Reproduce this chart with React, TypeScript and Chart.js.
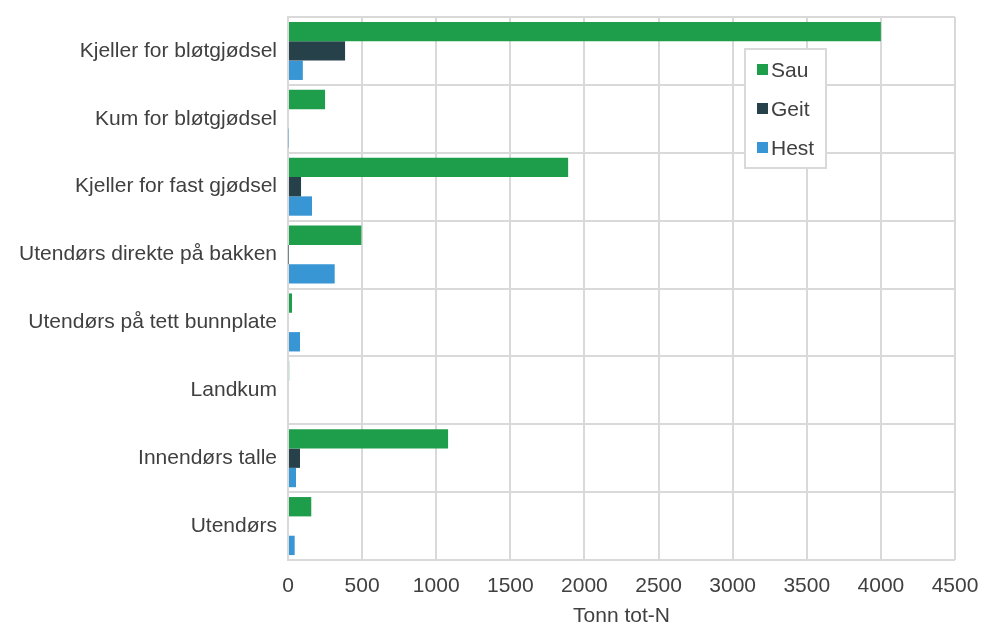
import React, { useEffect, useRef } from "react";
import { Chart, registerables } from "chart.js";

Chart.register(...registerables);

const categories = [
  "Kjeller for bløtgjødsel",
  "Kum for bløtgjødsel",
  "Kjeller for fast gjødsel",
  "Utendørs direkte på bakken",
  "Utendørs på tett bunnplate",
  "Landkum",
  "Innendørs talle",
  "Utendørs",
];
const sau = [4000, 250, 1890, 495, 27, 8, 1080, 157];
const geit = [385, 0, 88, 3, 0, 0, 81, 0];
const hest = [100, 4, 162, 315, 81, 0, 54, 45];
const seriesNames = ["Sau", "Geit", "Hest"];
const seriesColors = ["#1e9e4a", "#26414a", "#3896d4"];
const xTicks = [0, 500, 1000, 1500, 2000, 2500, 3000, 3500, 4000, 4500];

const FONT = "'Liberation Sans', Arial, sans-serif";
const TEXT = "#404040";
const GRID = "#d9d9d9";
const FS = 21;

const legendPlugin = {
  id: "boxLegend",
  afterDraw(chart: any) {
    const ctx = chart.ctx;
    const ca = chart.chartArea;
    const x = ca.left + 457;
    const y = ca.top + 32;
    const w = 81;
    const h = 119;
    ctx.save();
    ctx.fillStyle = "#ffffff";
    ctx.fillRect(x, y, w, h);
    ctx.strokeStyle = GRID;
    ctx.lineWidth = 2;
    ctx.strokeRect(x, y, w, h);
    ctx.font = `${FS}px ${FONT}`;
    ctx.textBaseline = "middle";
    ctx.textAlign = "left";
    chart.data.datasets.forEach((ds: any, i: number) => {
      const cy = y + 21 + i * 39;
      ctx.fillStyle = ds.backgroundColor;
      ctx.fillRect(x + 12, cy - 6, 11, 11);
      ctx.fillStyle = TEXT;
      ctx.fillText(ds.label, x + 26, cy + 1);
    });
    ctx.restore();
  },
};

export default function App() {
  const ref = useRef<HTMLCanvasElement>(null);
  useEffect(() => {
    document.body.style.margin = "0";
    const chart = new Chart(ref.current!, {
      type: "bar",
      data: {
        labels: categories,
        datasets: [sau, geit, hest].map((d, i) => ({
          label: seriesNames[i],
          data: d,
          backgroundColor: seriesColors[i],
          borderWidth: 0,
          barPercentage: 1,
          categoryPercentage: 0.855,
        })),
      },
      options: {
        indexAxis: "y",
        animation: false,
        responsive: false,
        maintainAspectRatio: false,
        layout: { padding: { top: 17, right: 26, left: 0, bottom: 0 } },
        plugins: {
          legend: { display: false },
          tooltip: { enabled: false },
        },
        scales: {
          x: {
            min: 0,
            max: 4500,
            afterBuildTicks: (s: any) => {
              s.ticks = xTicks.map((v) => ({ value: v }));
            },
            grid: { color: GRID, lineWidth: 2, drawTicks: false },
            border: { display: false },
            ticks: {
              padding: 14,
              color: TEXT,
              font: { family: FONT, size: FS },
              callback: (v: any) => String(v),
            },
            title: {
              display: true,
              text: "Tonn tot-N",
              color: TEXT,
              font: { family: FONT, size: FS },
              padding: { top: 0, bottom: -5 },
            },
            afterFit: (s: any) => {
              s.height = 64;
              s.paddingLeft = 0;
              s.paddingRight = 0;
            },
          },
          y: {
            grid: { color: GRID, lineWidth: 2, drawTicks: false, offset: true },
            border: { color: GRID, width: 2 },
            ticks: {
              padding: 11,
              color: TEXT,
              font: { family: FONT, size: FS },
            },
            afterFit: (s: any) => {
              s.width = 288;
              s.paddingTop = 0;
              s.paddingBottom = 0;
            },
          },
        },
      },
      plugins: [legendPlugin],
    } as any);
    return () => chart.destroy();
  }, []);
  return (
    <div style={{ width: 981, height: 624 }}>
      <canvas ref={ref} width={981} height={624} />
    </div>
  );
}
